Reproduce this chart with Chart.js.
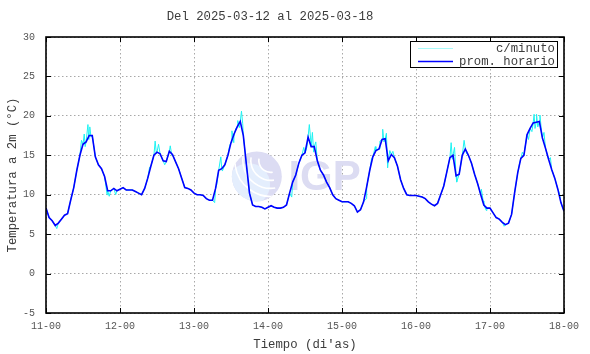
<!DOCTYPE html>
<html><head><meta charset="utf-8">
<script src="https://cdn.jsdelivr.net/npm/chart.js@4.4.1/dist/chart.umd.min.js"></script>
<style>html,body{margin:0;padding:0;background:#fff}</style>
</head><body>
<canvas id="c" width="590" height="354"></canvas>
<script>
const chartTitle = 'Del 2025-03-12 al 2025-03-18';
const xAxisTitle = "Tiempo (di'as)";
const yAxisTitle = 'Temperatura a 2m (°C)';
const seriesNames = ['c/minuto', 'prom. horario'];
const xTickLabels = ['11-00','12-00','13-00','14-00','15-00','16-00','17-00','18-00'];
const yTickValues = [-5, 0, 5, 10, 15, 20, 25, 30];

// hourly average temperature, one value per hour from 11-00 to 18-00
const hourlyTemps = [
  8.3,7.1,6.7,6.1,6.4,6.9,7.4,7.6,9.3,10.9,13.1,15.0,16.4,16.7,17.5,17.5,14.8,13.8,13.3,12.3,10.5,10.5,10.8,10.5,
  10.7,10.9,10.6,10.6,10.6,10.4,10.2,10.0,10.8,12.1,13.6,15.0,15.4,15.2,14.3,14.2,15.5,15.1,14.2,13.3,12.1,10.9,10.8,10.6,
  10.2,10.0,10.0,9.9,9.5,9.3,9.3,10.8,13.1,13.3,13.8,15.0,16.6,17.7,18.6,19.3,17.5,13.8,10.2,8.7,8.5,8.5,8.4,8.2,
  8.4,8.6,8.4,8.3,8.3,8.4,8.7,10.2,11.6,12.5,14.0,15.0,15.3,17.3,16.1,16.1,14.3,13.1,12.5,11.6,10.9,10.0,9.5,9.3,
  9.1,9.1,9.1,8.9,8.6,7.8,8.1,9.1,11.0,13.1,14.8,15.6,15.8,17.0,17.1,14.3,15.1,14.7,13.6,11.9,10.8,10.0,9.9,9.9,
  9.9,9.8,9.7,9.5,9.1,8.8,8.6,8.9,10.0,11.1,12.9,14.7,15.0,12.4,12.6,15.0,15.8,15.0,14.0,12.6,11.4,10.0,8.7,8.3,
  8.3,7.7,7.1,6.9,6.5,6.2,6.4,7.5,10.3,12.8,14.6,15.0,17.6,18.4,19.1,19.2,19.3,17.2,15.9,14.5,13.2,12.1,10.7,9.0,
  7.9
];

// per-minute readings that stand out from the hourly curve (hour offset, value)
const minuteHours = [
  3.5,11.5,12.4,12.7,13.6,13.9,14.2,14.6,19.8,20.5,22.6,
  33.6,35.4,35.8,36.5,37.6,38.5,40.3,40.8,44.6,
  54.7,55.4,56.7,57.2,59.6,60.3,60.9,61.6,62.2,62.7,63.4,63.8,
  79.7,82.6,83.6,84.6,85.4,85.8,86.4,86.8,87.5,
  103.8,105.6,106.8,108.3,109.2,109.6,110.4,110.8,111.5,112.5,
  128.4,131.4,131.8,132.5,133.2,135.6,136.4,141.2,141.8,142.8,
  148.6,153.6,154.5,156.5,157.6,158.3,158.6,159.1,159.5,160.2,160.6,161.5,163.6,166.5
];
const minuteTemps = [
  5.7,16.9,17.7,16.1,18.9,17.0,18.6,17.3,10.0,9.8,10.0,
  13.5,16.8,15.2,16.4,14.6,13.8,16.2,15.0,11.4,
  9.0,11.3,14.8,13.0,16.3,18.1,16.6,18.4,19.4,18.5,20.6,19.0,
  9.7,14.6,16.0,16.0,18.9,17.2,17.9,15.4,16.7,
  9.5,14.6,16.1,16.8,18.3,16.7,17.8,13.4,15.6,15.5,
  10.4,16.6,14.5,16.0,11.6,16.9,15.2,10.7,9.2,8.0,
  6.0,14.0,15.4,17.0,18.0,20.2,18.4,20.2,18.6,20.1,18.5,17.9,14.7,10.2
];

const hourlyPoints = hourlyTemps.map((v, i) => ({x: i, y: v}));
const minutePoints = hourlyPoints.concat(minuteHours.map((h, i) => ({x: h, y: minuteTemps[i]})))
  .sort((a, b) => a.x - b.x);

const MONO = "'Liberation Mono', 'DejaVu Sans Mono', monospace";
const TEXT_COLOR = '#3c3c3c';
const TICK_COLOR = '#555';

const watermark = {
  id: 'watermark',
  beforeDatasetsDraw(chart) {
    const {ctx, chartArea: a} = chart;
    const w = a.right - a.left, h = a.bottom - a.top;
    const cx = a.left + w * 0.407, cy = a.top + h * 0.505, r = 25;
    ctx.save();
    ctx.beginPath(); ctx.arc(cx, cy, r, 0, Math.PI * 2); ctx.fillStyle = '#dcdcf3'; ctx.fill();
    ctx.clip();
    ctx.beginPath(); ctx.arc(cx - 8, cy + 8, r * 0.85, 0, Math.PI * 2); ctx.fillStyle = '#e4eefd'; ctx.fill();
    ctx.strokeStyle = '#ffffff'; ctx.lineWidth = 1.6;
    for (let k = 0; k < 4; k++) {
      ctx.beginPath(); ctx.arc(cx + 14, cy - 16, 12 + k * 8, Math.PI * 0.45, Math.PI * 1.05); ctx.stroke();
    }
    ctx.restore();
    ctx.save();
    ctx.font = "bold 42px 'Liberation Sans', Arial, sans-serif";
    ctx.fillStyle = '#dcdcf2';
    ctx.textBaseline = 'alphabetic';
    ctx.fillText('IGP', a.left + w * 0.468, a.top + h * 0.555);
    ctx.restore();
  }
};

const frame = {
  id: 'frame',
  afterDatasetsDraw(chart) {
    const {ctx, chartArea: a, scales: {x, y}} = chart;
    ctx.save();
    ctx.strokeStyle = '#000'; ctx.lineWidth = 1;
    const tl = 5;
    ctx.beginPath();
    xTickLabels.forEach((_, i) => {
      const px = Math.round(x.getPixelForValue(i * 24)) + 0.5;
      ctx.moveTo(px, a.top); ctx.lineTo(px, a.top + tl);
      ctx.moveTo(px, a.bottom); ctx.lineTo(px, a.bottom - tl);
    });
    yTickValues.forEach(v => {
      const py = Math.round(y.getPixelForValue(v)) + 0.5;
      ctx.moveTo(a.left, py); ctx.lineTo(a.left + tl, py);
      ctx.moveTo(a.right, py); ctx.lineTo(a.right - tl, py);
    });
    ctx.stroke();
    ctx.lineWidth = 1.6;
    ctx.strokeRect(a.left, a.top, a.right - a.left, a.bottom - a.top);
    ctx.restore();
  },
  afterDraw(chart) {
    const {ctx, chartArea: a} = chart;
    const ds = chart.data.datasets;
    // title
    ctx.save();
    ctx.font = '12.3px ' + MONO;
    ctx.fillStyle = TEXT_COLOR;
    ctx.textAlign = 'center'; ctx.textBaseline = 'middle';
    ctx.fillText(chartTitle, chart.width * 0.4576, 17);
    ctx.restore();
    // legend
    const bx = a.right - 154, by = a.top + 4, bw = 147, bh = 26;
    ctx.save();
    ctx.fillStyle = '#fff';
    ctx.fillRect(bx, by, bw, bh);
    ctx.strokeStyle = '#000'; ctx.lineWidth = 1;
    ctx.strokeRect(bx + 0.5, by + 0.5, bw, bh);
    ctx.font = '12.3px ' + MONO;
    ctx.textAlign = 'right'; ctx.textBaseline = 'middle';
    ctx.fillStyle = TEXT_COLOR;
    [0, 1].forEach(i => {
      const yy = by + 7 + i * 13;
      ctx.strokeStyle = i === 0 ? '#a8fafa' : ds[i].borderColor; ctx.lineWidth = ds[i].borderWidth;
      ctx.beginPath(); ctx.moveTo(bx + 8, yy + 0.5); ctx.lineTo(bx + 43, yy + 0.5); ctx.stroke();
      ctx.fillText(seriesNames[i], bx + bw - 2, yy + 1);
    });
    ctx.restore();
  }
};

new Chart(document.getElementById('c'), {
  type: 'line',
  data: {
    datasets: [
      {label: seriesNames[0], data: minutePoints, borderColor: '#1ef2f2', borderWidth: 1, pointRadius: 0, tension: 0, order: 2},
      {label: seriesNames[1], data: hourlyPoints, borderColor: '#0000ff', borderWidth: 1.6, pointRadius: 0, tension: 0, order: 1}
    ]
  },
  options: {
    responsive: false,
    animation: false,
    devicePixelRatio: 1,
    layout: {padding: {left: 0, right: 26, top: 37, bottom: 0}},
    plugins: {
      legend: {display: false},
      tooltip: {enabled: false},
      title: {display: false}
    },
    scales: {
      x: {
        type: 'linear', min: 0, max: 168,
        afterFit(s) { s.height = 41; },
        afterBuildTicks(s) { s.ticks = xTickLabels.map((_, i) => ({value: i * 24})); },
        ticks: {autoSkip: false, maxRotation: 0, padding: 7, color: TICK_COLOR, font: {family: MONO, size: 10},
          callback: (v) => xTickLabels[Math.round(v / 24)]},
        grid: {color: '#a8a8a8', lineWidth: 1, drawTicks: false},
        border: {display: false, dash: [1.5, 2.5]},
        title: {display: true, text: xAxisTitle, color: TEXT_COLOR, font: {family: MONO, size: 12.3}, padding: {top: 0, bottom: 2}}
      },
      y: {
        min: -5, max: 30,
        afterFit(s) { s.width = 46; },
        afterBuildTicks(s) { s.ticks = yTickValues.map(v => ({value: v})); },
        ticks: {padding: 11, color: TICK_COLOR, font: {family: MONO, size: 10}},
        grid: {color: '#a8a8a8', lineWidth: 1, drawTicks: false},
        border: {display: false, dash: [1.5, 2.5]},
        title: {display: true, text: yAxisTitle, color: TEXT_COLOR, font: {family: MONO, size: 12.3}, padding: {top: 5, bottom: 0}}
      }
    }
  },
  plugins: [watermark, frame]
});
</script>
</body></html>
